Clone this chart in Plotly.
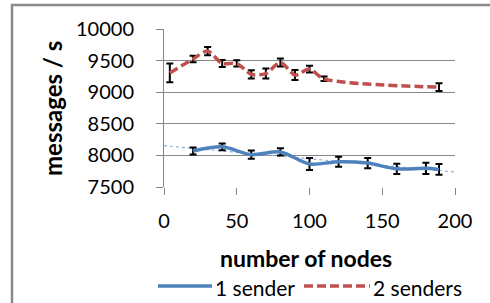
import numpy as np
import plotly.graph_objects as go

# ---- data ----
nodes_1 = [20, 40, 60, 80, 100, 120, 140, 160, 180, 189]
rate_1 = [8070, 8135, 8012, 8055, 7865, 7900, 7878, 7787, 7795, 7778]
err_1 = [55, 55, 65, 58, 95, 80, 80, 80, 88, 85]

nodes_2 = [4, 20, 30, 40, 50, 60, 70, 80, 90, 100, 110, 189]
rate_2 = [9305, 9525, 9650, 9455, 9455, 9283, 9295, 9470, 9272, 9365, 9212, 9080]
err_2 = [148, 50, 65, 55, 50, 65, 80, 65, 80, 52, 35, 60]

x_ticks = [0, 50, 100, 150, 200]
y_ticks = [7500, 8000, 8500, 9000, 9500, 10000]

series_names = ["1 sender", "2 senders"]
x_title = "number of nodes"
y_title = "messages / s"

# linear trendline of the 1-sender series (as in the spreadsheet chart)
slope, intercept = np.polyfit(nodes_1, rate_1, 1)
trend_x = [x_ticks[0], x_ticks[-1]]
trend_y = [intercept + slope * v for v in trend_x]

BLUE = "#4F81BD"
RED = "#C0504D"
FONT = "Lato"
LINE_W = 3.5
RED_DASH = "9px,4px"

fig = go.Figure()

fig.add_trace(go.Scatter(
    x=trend_x, y=trend_y, mode="lines",
    line=dict(color="#8FAEDB", width=1.2, dash="3px,3px"),
    showlegend=False, hoverinfo="skip"))

fig.add_trace(go.Scatter(
    x=nodes_1, y=rate_1, mode="lines", name=series_names[0], showlegend=False,
    line=dict(color=BLUE, width=LINE_W, shape="spline", smoothing=0.8),
    error_y=dict(type="data", array=err_1, color="black", thickness=2, width=3.5)))

fig.add_trace(go.Scatter(
    x=nodes_2, y=rate_2, mode="lines", name=series_names[1], showlegend=False,
    line=dict(color=RED, width=LINE_W, dash=RED_DASH, shape="spline", smoothing=0.8),
    error_y=dict(type="data", array=err_2, color="black", thickness=2, width=3.5)))

L, R, T, B = 164, 35, 29, 116
W, H = 490, 303
pw, ph = W - L - R, H - T - B

def px(x):
    return (x - L) / pw

def py(y):
    return (H - B - y) / ph

LEG_Y = 286
shapes = [
    dict(type="rect", xref="paper", yref="paper",
         x0=px(12), x1=px(500), y0=py(320), y1=py(5),
         line=dict(color="#8A8A8A", width=2.5), layer="below"),
    # legend glyphs
    dict(type="line", xref="paper", yref="paper",
         x0=px(158), x1=px(212), y0=py(LEG_Y), y1=py(LEG_Y),
         line=dict(color=BLUE, width=LINE_W)),
    dict(type="line", xref="paper", yref="paper",
         x0=px(304), x1=px(370), y0=py(LEG_Y), y1=py(LEG_Y),
         line=dict(color=RED, width=LINE_W, dash=RED_DASH)),
]

annotations = [
    dict(text=series_names[0], xref="paper", yref="paper", x=px(213), y=py(LEG_Y + 1),
         xanchor="left", yanchor="middle", showarrow=False, font=dict(size=21)),
    dict(text=series_names[1], xref="paper", yref="paper", x=px(371), y=py(LEG_Y + 1),
         xanchor="left", yanchor="middle", showarrow=False, font=dict(size=21)),
    dict(text="<b>" + x_title + "</b>", xref="paper", yref="paper", x=px(306), y=py(258),
         xanchor="center", yanchor="middle", showarrow=False, font=dict(size=23)),
    dict(text="<b>" + y_title + "</b>", xref="paper", yref="paper", x=px(52), y=py(109),
         xanchor="center", yanchor="middle", showarrow=False, textangle=-90,
         font=dict(size=24)),
]

fig.update_layout(
    width=W, height=H,
    margin=dict(l=L, r=R, t=T, b=B, pad=0, autoexpand=False),
    paper_bgcolor="white", plot_bgcolor="white",
    font=dict(family=FONT, size=20, color="black"),
    showlegend=False,
    xaxis=dict(range=[0, 200], tickvals=x_ticks, ticktext=[str(v) for v in x_ticks],
               showgrid=False, zeroline=False, showline=False, automargin=False,
               ticks="outside", ticklen=7, tickcolor="#868686", tickwidth=1,
               ticklabelstandoff=9, tickfont=dict(size=20)),
    yaxis=dict(range=[7500, 10000], tickvals=y_ticks, ticktext=[str(v) for v in y_ticks],
               showgrid=True, gridcolor="#868686", gridwidth=1, automargin=False,
               zeroline=False, showline=True, linecolor="#868686", linewidth=1,
               ticks="outside", ticklen=7, tickcolor="#868686", tickwidth=1,
               ticklabelstandoff=18, tickfont=dict(size=20)),
    shapes=shapes,
    annotations=annotations,
)

fig.write_html("out.html", config={"displayModeBar": False},
               post_script="document.body.style.margin='0';document.body.style.overflow='hidden';")
